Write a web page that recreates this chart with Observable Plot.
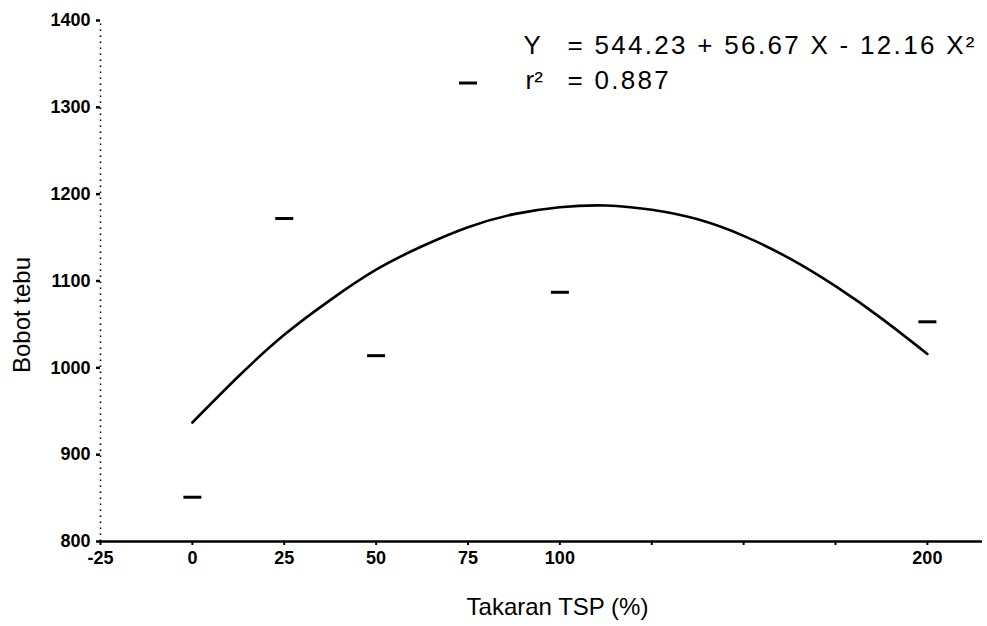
<!DOCTYPE html>
<html>
<head>
<meta charset="utf-8">
<script src="https://cdn.jsdelivr.net/npm/d3@7"></script>
<script src="https://cdn.jsdelivr.net/npm/@observablehq/plot@0.6"></script>
<style>
  html, body { margin: 0; padding: 0; background: #fff; }
  #chart { width: 987px; height: 626px; }
</style>
</head>
<body>
<div id="chart"></div>
<script>
// ---- data ----
const doses   = [0, 25, 50, 75, 100, 200];              // Takaran TSP (%)
const weights = [851, 1172, 1014, 1328, 1087, 1053];    // Bobot tebu (observed)

const fitX = [0, 12.5, 25, 37.5, 50, 62.5, 75, 87.5, 100, 112.5, 125, 137.5, 150, 162.5, 175, 187.5, 200];
const fitY = [937, 990, 1038, 1078, 1113, 1140, 1162, 1177, 1185, 1187, 1182, 1171, 1152, 1126, 1094, 1057, 1016];

const xTicks = [-25, 0, 25, 50, 75, 100, 125, 150, 175, 200];
const xTickLabels = ["-25", "0", "25", "50", "75", "100", "", "", "", "200"];
const yTicks = [800, 900, 1000, 1100, 1200, 1300, 1400];
const yTickLabels = ["800", "900", "1000", "1100", "1200", "1300", "1400"];

const xTitle = "Takaran TSP (%)";
const yTitle = "Bobot tebu";
const eqLhs = "Y";
const eqRhs = "= 544.23 + 56.67 X - 12.16 X²";
const r2Lhs = "r²";
const r2Rhs = "= 0.887";

// ---- build ----
const points = doses.map((d, i) => ({dose: d, weight: weights[i]}));
const fit = fitX.map((d, i) => ({dose: d, weight: fitY[i]}));

const dash = {
  draw(context) {
    context.moveTo(-9, 0);
    context.lineTo(9, 0);
  }
};

const font = "'Liberation Sans', Arial, Helvetica, sans-serif";

const chart = Plot.plot({
  width: 987,
  height: 626,
  marginLeft: 100,
  marginRight: 5,
  marginTop: 20,
  marginBottom: 85,
  style: {fontFamily: font, background: "#fff", color: "#000"},
  x: {domain: [-25, 215]},
  y: {domain: [800, 1400]},
  marks: [
    Plot.ruleX([-25], {y1: 800, y2: 1400, stroke: "#000", strokeWidth: 1.6, strokeDasharray: "1.5,4.5"}),
    Plot.ruleY([800], {stroke: "#000", strokeWidth: 2.5}),
    Plot.axisX({
      ticks: xTicks,
      tickFormat: d => xTickLabels[xTicks.indexOf(d)],
      tickSize: 4, tickPadding: 6, strokeWidth: 2,
      fontSize: 18, fontWeight: "bold", label: null
    }),
    Plot.axisY({
      ticks: yTicks,
      tickFormat: d => yTickLabels[yTicks.indexOf(d)],
      tickSize: 4, tickPadding: 6, strokeWidth: 2.5,
      fontSize: 18, fontWeight: "bold", label: null
    }),
    Plot.line(fit, {x: "dose", y: "weight", stroke: "#000", strokeWidth: 2.6, curve: "natural"}),
    Plot.dot(points, {x: "dose", y: "weight", symbol: dash, r: 4, fill: "none", stroke: "#000", strokeWidth: 3}),
    Plot.text([yTitle], {frameAnchor: "left", dx: -78, dy: 34, rotate: -90, textAnchor: "middle", fontSize: 24, text: d => d, fill: "#000"}),
    Plot.text([xTitle], {frameAnchor: "bottom-left", dx: 457, dy: 73, textAnchor: "middle", fontSize: 24, text: d => d, fill: "#000"}),
    Plot.text([eqLhs], {frameAnchor: "top-left", dx: 423, dy: 15, textAnchor: "start", fontSize: 26, text: d => d, fill: "#000"}),
    Plot.text([eqRhs], {frameAnchor: "top-left", dx: 467, dy: 15, textAnchor: "start", fontSize: 26, text: d => d, fill: "#000"}),
    Plot.text([r2Lhs], {frameAnchor: "top-left", dx: 425, dy: 50, textAnchor: "start", fontSize: 26, text: d => d, fill: "#000"}),
    Plot.text([r2Rhs], {frameAnchor: "top-left", dx: 467, dy: 50, textAnchor: "start", fontSize: 26, text: d => d, fill: "#000"})
  ]
});

d3.select(chart).selectAll("text")
  .filter(function() { return /=/.test(this.textContent); })
  .attr("letter-spacing", "2.3px");

d3.select(chart).selectAll("text")
  .filter(function() { return /^-?\d+$/.test(this.textContent.trim()); })
  .style("font-size", "18px")
  .style("font-weight", "bold");

document.getElementById("chart").appendChild(chart);
</script>
</body>
</html>
